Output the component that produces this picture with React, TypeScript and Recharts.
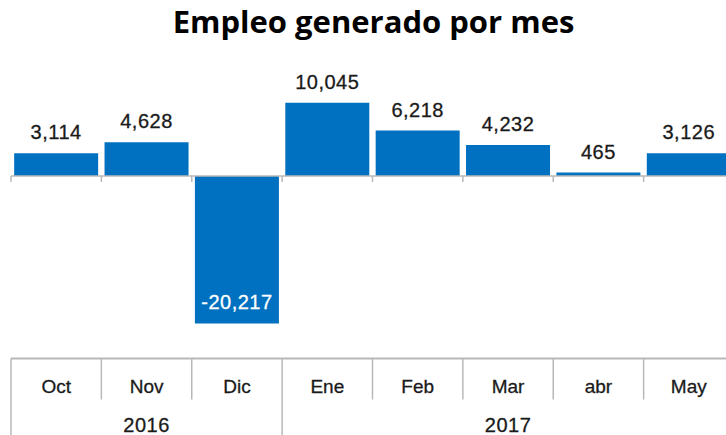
import { Bar, BarChart, LabelList, ReferenceLine, XAxis, YAxis } from 'recharts';

const months = ['Oct', 'Nov', 'Dic', 'Ene', 'Feb', 'Mar', 'abr', 'May'];
const monthYear = ['2016', '2016', '2016', '2017', '2017', '2017', '2017', '2017'];
const empleo = [3114, 4628, -20217, 10045, 6218, 4232, 465, 3126];

const data = months.map((m, i) => ({ month: m, year: monthYear[i], value: empleo[i] }));

const CHART_W = 740;
const CHART_H = 435;
const MARGIN = { top: 66.5, right: 6, bottom: 0, left: 11 };
const AXIS_H = 76.5;
const BAND = (CHART_W - MARGIN.left - MARGIN.right) / months.length;

const BLUE = '#0070c0';
const GRID = '#b8b8b8';
const FONT = '"Liberation Sans", Arial, sans-serif';

const fmt = (v: number) => v.toLocaleString('en-US');

function MonthTick(props: any) {
  const { x, y, index, payload } = props;
  const left = x - BAND / 2;
  const yr = monthYear[index];
  const groupStart = index === 0 || monthYear[index - 1] !== yr;
  const count = monthYear.filter((v) => v === yr).length;
  return (
    <g>
      <line
        x1={left}
        x2={left}
        y1={y}
        y2={groupStart ? y + 80 : y + 41}
        stroke={GRID}
        strokeWidth={1.5}
      />
      <text
        x={x}
        y={y + 34}
        textAnchor="middle"
        fontFamily={FONT}
        fontSize={19}
        stroke="#1a1a1a"
        strokeWidth={0.3}
        fill="#1a1a1a"
      >
        {payload.value}
      </text>
      {groupStart && (
        <text
          x={left + (count * BAND) / 2}
          y={y + 73}
          textAnchor="middle"
          fontFamily={FONT}
          fontSize={20}
          letterSpacing={0.5}
          stroke="#1a1a1a"
          strokeWidth={0.3}
          fill="#1a1a1a"
        >
          {yr}
        </text>
      )}
    </g>
  );
}

function ZeroLine(props: any) {
  const { x1, x2, y1 } = props;
  const ticks = months.map((_, i) => x1 + i * BAND);
  return (
    <g>
      <line x1={x1} x2={x2} y1={y1} y2={y1} stroke={GRID} strokeWidth={1.5} />
      {ticks.map((tx, i) => (
        <line key={i} x1={tx} x2={tx} y1={y1} y2={y1 + 6} stroke={GRID} strokeWidth={1.5} />
      ))}
    </g>
  );
}

function ValueLabel(props: any) {
  const { x, y, width, height, value } = props;
  const top = Math.min(y, y + height);
  const bottom = Math.max(y, y + height);
  const neg = value < 0;
  const color = neg ? '#ffffff' : '#1a1a1a';
  return (
    <text
      x={x + width / 2}
      y={neg ? bottom - 15 : top - 14}
      textAnchor="middle"
      fontFamily={FONT}
      fontSize={20}
      letterSpacing={0.5}
      stroke={color}
      strokeWidth={0.3}
      fill={color}
    >
      {fmt(value)}
    </text>
  );
}

export default function App() {
  return (
    <div
      style={{
        position: 'absolute',
        left: 0,
        top: 0,
        width: 726,
        height: 435,
        overflow: 'hidden',
        background: '#fff',
      }}
    >
      <div
        style={{
          position: 'absolute',
          left: 21,
          top: 0,
          width: 705,
          textAlign: 'center',
          fontFamily: '"Open Sans", sans-serif',
          fontWeight: 700,
          fontSize: 31,
          lineHeight: '43px',
          color: '#000',
          whiteSpace: 'nowrap',
        }}
      >
        Empleo generado por mes
      </div>
      <BarChart width={CHART_W} height={CHART_H} data={data} margin={MARGIN} barCategoryGap="3.5%">
        <YAxis hide domain={[-25000, 15000]} />
        <XAxis
          dataKey="month"
          height={AXIS_H}
          tickSize={0}
          tickMargin={0}
          tickLine={false}
          axisLine={{ stroke: GRID, strokeWidth: 2 }}
          tick={<MonthTick />}
          interval={0}
        />
        <Bar dataKey="value" fill={BLUE} isAnimationActive={false}>
          <LabelList dataKey="value" content={<ValueLabel />} />
        </Bar>
        <ReferenceLine y={0} shape={<ZeroLine />} />
      </BarChart>
    </div>
  );
}
